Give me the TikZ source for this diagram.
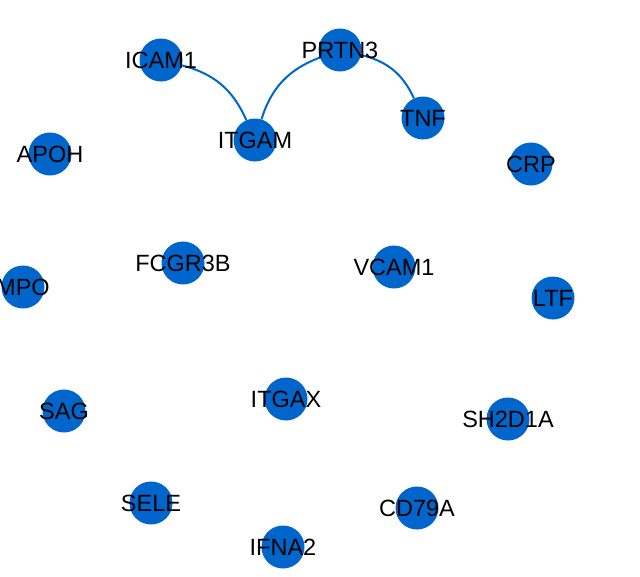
\documentclass[tikz,border=0pt]{standalone}
\usepackage{fontspec}
\setmainfont{Liberation Sans}
\usetikzlibrary{backgrounds}
\definecolor{nodeblue}{HTML}{0066CC}
\tikzset{
  genename/.style={text=black, inner sep=0pt, font=\fontsize{23.5}{27}\selectfont},
  gene/.style={circle, fill=nodeblue, minimum size=43pt, inner sep=0pt,
    label={[genename]center:#1}},
  link/.style={draw=nodeblue, line width=2pt, bend left=26}
}
\begin{document}
\begin{tikzpicture}[x=1pt, y=-1pt]
  \useasboundingbox (0,0) rectangle (640,576);
  % interacting genes
  \node[gene=ICAM1]  (ICAM1)  at (161,60)  {};
  \node[gene=PRTN3]  (PRTN3)  at (340,50)  {};
  \node[gene=ITGAM]  (ITGAM)  at (255,140) {};
  \node[gene=TNF]    (TNF)    at (423,118) {};
  % unconnected genes
  \node[gene=APOH]   (APOH)   at (50,154)  {};
  \node[gene=CRP]    (CRP)    at (531,164) {};
  \node[gene=FCGR3B] (FCGR3B) at (183,263) {};
  \node[gene=VCAM1]  (VCAM1)  at (394,267) {};
  \node[gene=MPO]    (MPO)    at (23,287)  {};
  \node[gene=LTF]    (LTF)    at (553,298) {};
  \node[gene=SAG]    (SAG)    at (64,411)  {};
  \node[gene=ITGAX]  (ITGAX)  at (286,399) {};
  \node[gene=SH2D1A] (SH2D1A) at (508,419) {};
  \node[gene=SELE]   (SELE)   at (151,503) {};
  \node[gene=CD79A]  (CD79A)  at (417,508) {};
  \node[gene=IFNA2]  (IFNA2)  at (283,547) {};
  % interactions, kept beneath the nodes
  \begin{scope}[on background layer]
    \draw[link] (ICAM1) to (ITGAM);
    \draw[link] (ITGAM) to (PRTN3);
    \draw[link] (PRTN3) to (TNF);
  \end{scope}
\end{tikzpicture}
\end{document}
